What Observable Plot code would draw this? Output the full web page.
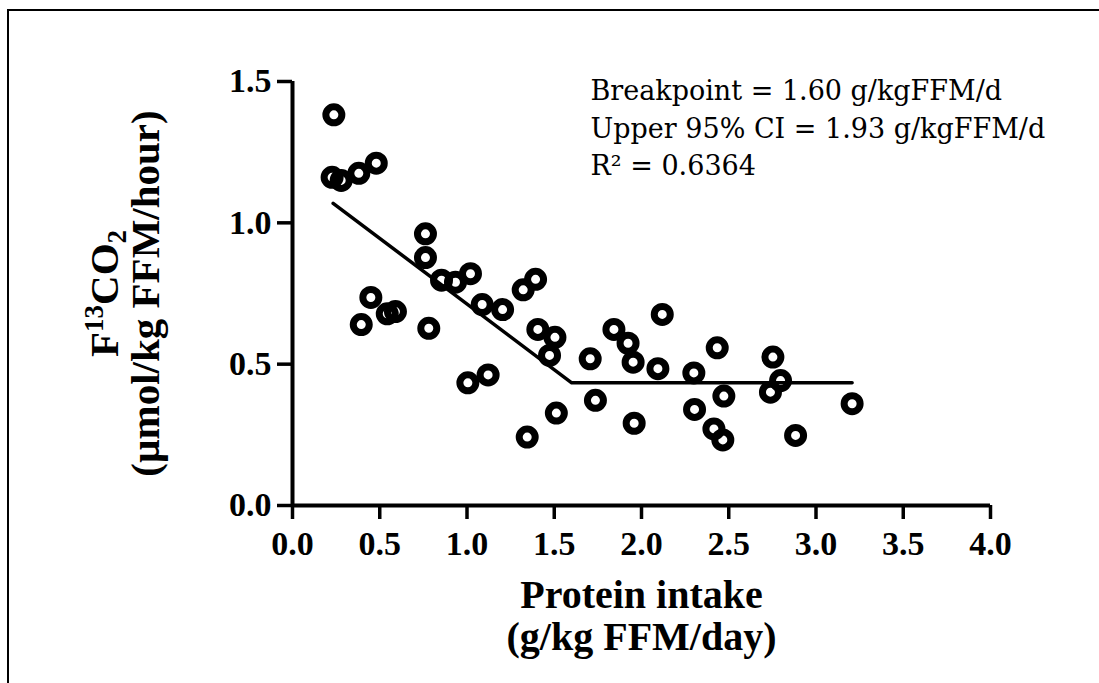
<!DOCTYPE html>
<html>
<head>
<meta charset="utf-8">
<script src="https://cdn.jsdelivr.net/npm/d3@7"></script>
<script src="https://cdn.jsdelivr.net/npm/@observablehq/plot@0.6"></script>
<style>
  html, body { margin: 0; padding: 0; background: #fff; overflow: hidden; }
  #wrap { position: relative; width: 1099px; height: 683px; overflow: hidden; }
  #frame { position: absolute; left: 7px; top: 9px; width: 1300px; height: 900px;
           border-left: 2.5px solid #000; border-top: 2.5px solid #000; }
  #chart { position: absolute; left: 0; top: 0; }
</style>
</head>
<body>
<div id="wrap"><div id="frame"></div><div id="chart"></div></div>
<script>
// Protein intake (g/kg FFM/day) per subject
const intake = [0.237, 0.227, 0.279, 0.380, 0.480, 0.762, 0.762, 0.854, 0.934, 1.020,
                0.449, 0.394, 0.543, 0.590, 0.781, 1.087, 1.204, 1.322, 1.393, 1.406,
                1.504, 1.473, 1.005, 1.121, 1.345, 1.512, 1.706, 1.736, 1.842, 1.923,
                1.952, 1.958, 2.119, 2.094, 2.300, 2.304, 2.434, 2.472, 2.415, 2.466,
                2.753, 2.797, 2.739, 2.883, 3.207];
// F13CO2 (µmol/kg FFM/hour) per subject
const f13co2 = [1.382, 1.161, 1.150, 1.175, 1.211, 0.961, 0.877, 0.797, 0.790, 0.820,
                0.736, 0.640, 0.678, 0.686, 0.627, 0.711, 0.693, 0.763, 0.800, 0.623,
                0.595, 0.531, 0.434, 0.462, 0.242, 0.327, 0.519, 0.372, 0.623, 0.574,
                0.507, 0.291, 0.676, 0.484, 0.469, 0.340, 0.558, 0.387, 0.271, 0.232,
                0.525, 0.442, 0.401, 0.248, 0.360];

// Two-phase linear regression: descending segment, breakpoint, plateau
const fitX = [0.233, 1.60, 3.207];
const fitY = [1.069, 0.434, 0.434];

const xTicks = [0, 0.5, 1.0, 1.5, 2.0, 2.5, 3.0, 3.5, 4.0];
const yTicks = [0, 0.5, 1.0, 1.5];

const xTitle = "Protein intake\n(g/kg FFM/day)";
const yTitleMain = "F13CO2";
const yTitleUnit = "(µmol/kg FFM/hour)";
const statsLines = ["Breakpoint = 1.60 g/kgFFM/d", "Upper 95% CI = 1.93 g/kgFFM/d", "R² = 0.6364"];

const points = intake.map((x, i) => ({x, y: f13co2[i]}));
const fit = fitX.map((x, i) => ({x, y: fitY[i]}));

const serifBold = "'Liberation Serif', 'Times New Roman', serif";

const chart = Plot.plot({
  width: 1099,
  height: 683,
  marginLeft: 292,
  marginRight: 109,
  marginTop: 81,
  marginBottom: 178,
  x: {domain: [0, 4]},
  y: {domain: [0, 1.5]},
  style: {fontFamily: serifBold, fontWeight: "bold", fontSize: "34px", color: "#000", background: "transparent", overflow: "visible"},
  marks: [
    Plot.axisX({ticks: xTicks, tickFormat: d => d.toFixed(1), tickSize: 14, tickPadding: 11, strokeWidth: 3.5, label: null, fontSize: 34, fontWeight: "bold"}),
    Plot.axisY({ticks: yTicks, tickFormat: d => d.toFixed(1), tickSize: 15, tickPadding: 6, strokeWidth: 3.5, label: null, fontSize: 34, fontWeight: "bold"}),
    Plot.ruleX([0], {strokeWidth: 4}),
    Plot.ruleY([0], {strokeWidth: 4}),
    Plot.line(fit, {x: "x", y: "y", stroke: "#000", strokeWidth: 3.5}),
    Plot.dot(points, {x: "x", y: "y", r: 8, stroke: "#000", strokeWidth: 7, fill: "none"}),
    Plot.text([statsLines.join("\n")], {text: d => d, frameAnchor: "top-left", textAnchor: "start", lineAnchor: "top",
      dx: 298, dy: -8, fontFamily: "'DejaVu Serif', serif", fontWeight: "normal", fontSize: 27, lineHeight: 1.39}),
    Plot.text([xTitle], {text: d => d, frameAnchor: "bottom", textAnchor: "middle", lineAnchor: "top", dy: 73, fontSize: 40, lineHeight: 1.05}),
    Plot.text([yTitleMain], {text: d => d, frameAnchor: "left", textAnchor: "middle", rotate: -90, dx: -188, fontSize: 41}),
    Plot.text([yTitleUnit], {text: d => d, frameAnchor: "left", textAnchor: "middle", rotate: -90, dx: -147, fontSize: 41})
  ]
});

document.getElementById("chart").appendChild(chart);

// Superscript 13 and subscript 2 in the y-axis title
d3.select(chart).selectAll("text")
  .filter(function() { return this.textContent === yTitleMain; })
  .each(function() {
    const t = d3.select(this);
    t.text(null);
    t.append("tspan").text("F");
    t.append("tspan").attr("font-size", 27).attr("dy", -15).text("13");
    t.append("tspan").attr("dy", 15).text("CO");
    t.append("tspan").attr("font-size", 27).attr("dy", 8).text("2");
  });
</script>
</body>
</html>
